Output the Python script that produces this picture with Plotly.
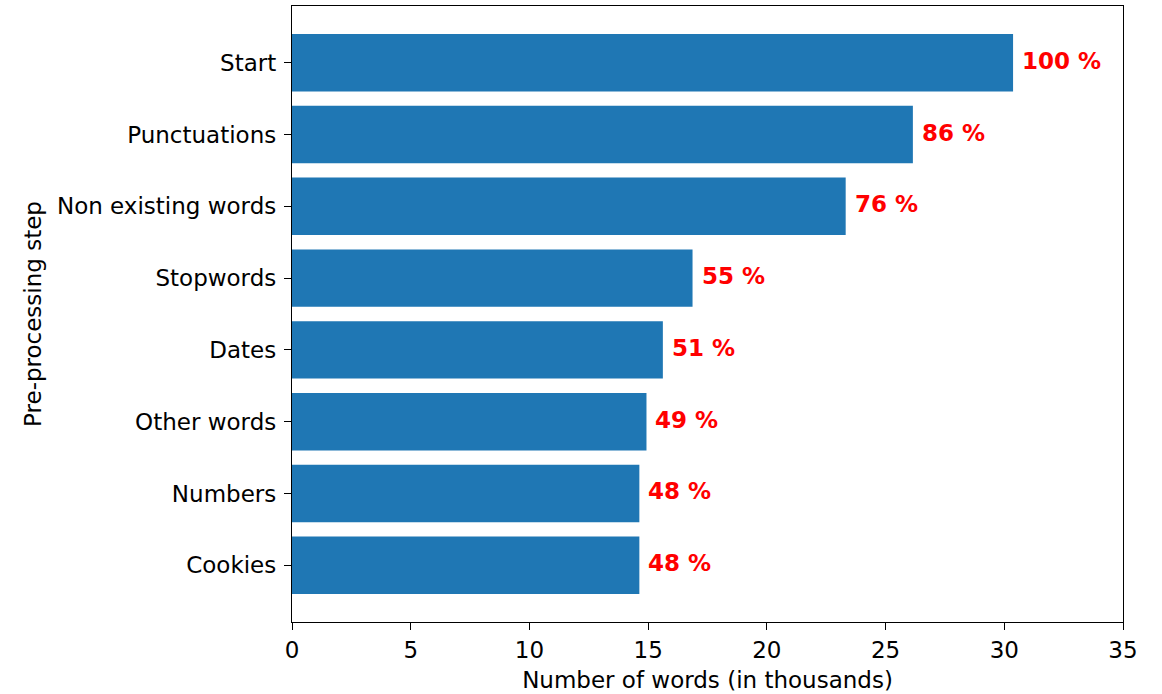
import plotly.graph_objects as go

steps = ["Start", "Punctuations", "Non existing words", "Stopwords", "Dates",
         "Other words", "Numbers", "Cookies"]
words_k = [30.37, 26.15, 23.32, 16.87, 15.62, 14.93, 14.63, 14.63]
pct_labels = ["100 %", "86 %", "76 %", "55 %", "51 %", "49 %", "48 %", "48 %"]
x_ticks = [0, 5, 10, 15, 20, 25, 30, 35]

n = len(steps)
ypos = [n - 1 - i for i in range(n)]

fig = go.Figure()
fig.add_trace(go.Bar(
    x=words_k, y=ypos, orientation="h", width=0.8,
    marker=dict(color="#1f77b4", line=dict(width=0)),
    hoverinfo="skip",
))

for xv, yv, lab in zip(words_k, ypos, pct_labels):
    fig.add_annotation(x=xv, y=yv, text="<b>" + lab + "</b>", showarrow=False,
                       xanchor="left", yanchor="middle", xshift=7, yshift=2,
                       font=dict(family="DejaVu Sans", size=23, color="red"))

axis_common = dict(showline=True, linecolor="black", linewidth=1.3, mirror=True,
                   ticks="outside", ticklen=7, tickcolor="black", tickwidth=1.2,
                   showgrid=False, zeroline=False,
                   tickfont=dict(family="DejaVu Sans", size=23, color="black"))

fig.update_layout(
    width=1162, height=694,
    margin=dict(l=292, r=39, t=5, b=71),
    paper_bgcolor="white", plot_bgcolor="white",
    showlegend=False,
    font=dict(family="DejaVu Sans", color="black"),
    xaxis=dict(range=[0, 35], tickvals=x_ticks, ticktext=[str(t) for t in x_ticks],
               title=dict(text="Number of words (in thousands)", standoff=10,
                          font=dict(family="DejaVu Sans", size=23)),
               **axis_common),
    yaxis=dict(range=[-0.79, n - 1 + 0.79], tickvals=ypos, ticktext=steps,
               ticklabelstandoff=3,
               title=dict(text="Pre-processing step", standoff=8,
                          font=dict(family="DejaVu Sans", size=23)),
               **axis_common),
)

fig.write_html("out.html", config={"displayModeBar": False},
               post_script="document.body.style.margin='0px';")
